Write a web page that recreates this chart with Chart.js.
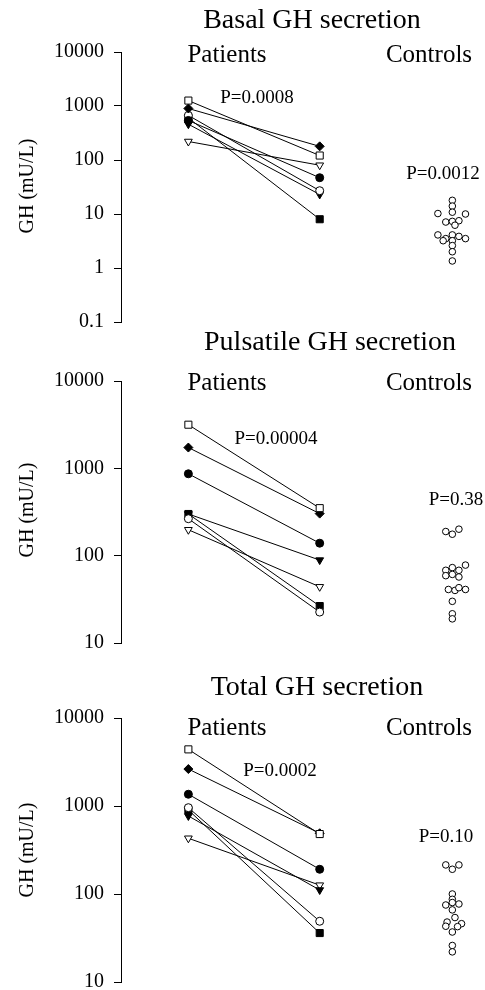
<!DOCTYPE html>
<html>
<head>
<meta charset="utf-8">
<title>GH secretion</title>
<script src="https://cdn.jsdelivr.net/npm/chart.js@4.4.1/dist/chart.umd.min.js"></script>
<style>
  html, body { margin: 0; padding: 0; background: #fff; }
  body { width: 485px; height: 990px; position: relative; overflow: hidden; }
  canvas { position: absolute; left: 0; }
</style>
</head>
<body>
<canvas id="basal" width="485" height="344" style="top:0px"></canvas>
<canvas id="pulsatile" width="485" height="335" style="top:330px"></canvas>
<canvas id="total" width="485" height="354" style="top:650px"></canvas>
<script>
// x: 1 = patients (before), 2 = patients (after), 3 = controls
const markers = ['openSquare', 'diamond', 'filledCircle', 'openCircle', 'filledSquare', 'filledTriangle', 'openTriangle'];

// Basal GH secretion
const basalBefore = [1260, 900, 540, 670, 600, 460, 220];
const basalAfter  = [121, 179, 47, 27, 8, 23, 80];
const basalCtrlX  = [3.01, 3.01, 2.90, 3.01, 3.11, 2.96, 3.01, 3.06, 3.03, 2.90, 2.96, 3.01, 3.06, 3.11, 2.94, 3.01, 3.01, 3.01, 3.01];
const basalCtrlY  = [17.9, 14, 10.2, 10.8, 10.0, 7.1, 7.3, 7.5, 6.2, 4.1, 3.5, 4.1, 3.85, 3.5, 3.2, 3.2, 2.6, 2.0, 1.35];
const basalTicks  = [0.1, 1, 10, 100, 1000, 10000];

// Pulsatile GH secretion
const pulsBefore = [3160, 1730, 866, 265, 300, 300, 198];
const pulsAfter  = [350, 303, 139, 22.6, 26.5, 89, 44];
const pulsCtrlX  = [2.96, 3.01, 3.06, 2.96, 3.01, 3.06, 3.11, 2.96, 3.01, 3.06, 2.98, 3.03, 3.06, 3.11, 3.01, 3.01, 3.01];
const pulsCtrlY  = [189, 176, 201, 68, 73, 68, 78, 59, 61, 57, 41, 40, 43, 41, 30, 21.6, 18.9];
const pulsTicks  = [10, 100, 1000, 10000];

// Total GH secretion
const totalBefore = [4400, 2630, 1360, 957, 900, 770, 430];
const totalAfter  = [480, 490, 191, 49, 36, 111, 126];
const totalCtrlX  = [2.96, 3.01, 3.06, 3.01, 3.01, 2.96, 3.01, 3.06, 3.01, 3.03, 2.97, 3.08, 2.96, 3.05, 3.01, 3.01, 3.01];
const totalCtrlY  = [214, 191, 214, 100, 87, 75, 80, 77, 66, 54, 48, 46, 43, 42.6, 37, 26, 22];
const totalTicks  = [10, 100, 1000, 10000];

const FONT = "'Liberation Serif', 'Times New Roman', serif";

function markerStyle(name) {
  const s = { pointStyle: 'circle', pointRotation: 0, pointBackgroundColor: '#000', pointRadius: 4 };
  if (name.indexOf('Square') > 0) { s.pointStyle = 'rect'; s.pointRadius = 5; }
  if (name === 'diamond') { s.pointStyle = 'rectRot'; s.pointRadius = 4.5; }
  if (name.indexOf('Triangle') > 0) { s.pointStyle = 'triangle'; s.pointRotation = 180; s.pointRadius = 4.5; }
  if (name.indexOf('open') === 0) s.pointBackgroundColor = '#fff';
  return s;
}

// texts drawn on top of each chart
const textPlugin = {
  id: 'texts',
  afterDraw(chart, args, opts) {
    const ctx = chart.ctx;
    ctx.save();
    ctx.fillStyle = '#000';
    ctx.textAlign = 'center';
    ctx.textBaseline = 'middle';
    opts.items.forEach(t => {
      ctx.font = t.size + 'px ' + FONT;
      if (t.rotate) {
        ctx.save();
        ctx.translate(t.x, t.y);
        ctx.rotate(-Math.PI / 2);
        ctx.fillText(t.text, 0, 0);
        ctx.restore();
      } else {
        ctx.fillText(t.text, t.x, t.y);
      }
    });
    ctx.restore();
  }
};

function makeChart(id, before, after, ctrlX, ctrlY, ticks, yMin, pad, texts) {
  const datasets = markers.map((m, i) => Object.assign({
    data: [{ x: 1, y: before[i] }, { x: 2, y: after[i] }],
    showLine: true,
    borderColor: '#000',
    borderWidth: 1,
    pointBorderColor: '#000',
    pointBorderWidth: 1
  }, markerStyle(m)));

  datasets.push({
    data: ctrlX.map((x, i) => ({ x: x, y: ctrlY[i] })),
    showLine: false,
    pointStyle: 'circle',
    pointRadius: 3.3,
    pointBackgroundColor: '#fff',
    pointBorderColor: '#000',
    pointBorderWidth: 1
  });

  return new Chart(document.getElementById(id), {
    type: 'scatter',
    data: { datasets: datasets },
    plugins: [textPlugin],
    options: {
      responsive: false,
      animation: false,
      layout: { padding: { top: pad[0], bottom: pad[1], left: 0, right: 0 } },
      plugins: {
        legend: { display: false },
        tooltip: { enabled: false },
        texts: { items: texts }
      },
      scales: {
        x: { type: 'linear', min: 0.487, max: 3.213, display: false },
        y: {
          type: 'logarithmic',
          min: yMin,
          max: 10000,
          afterFit: scale => { scale.width = 121; },
          afterBuildTicks: scale => { scale.ticks = ticks.map(v => ({ value: v })); },
          border: { display: true, color: '#000', width: 1 },
          grid: { drawOnChartArea: false, drawTicks: true, tickLength: 7, color: '#000', lineWidth: 1 },
          ticks: {
            color: '#000',
            padding: 10,
            font: { family: FONT, size: 20 },
            callback: v => String(v)
          }
        }
      }
    }
  });
}

makeChart('basal', basalBefore, basalAfter, basalCtrlX, basalCtrlY, basalTicks, 0.1, [52, 0], [
  { text: 'Basal GH secretion', x: 312, y: 21, size: 28 },
  { text: 'Patients', x: 227, y: 55, size: 25 },
  { text: 'Controls', x: 429, y: 55, size: 25 },
  { text: 'P=0.0008', x: 257, y: 98, size: 19 },
  { text: 'P=0.0012', x: 443, y: 174, size: 19 },
  { text: 'GH (mU/L)', x: 28, y: 186, size: 20, rotate: true }
]);

makeChart('pulsatile', pulsBefore, pulsAfter, pulsCtrlX, pulsCtrlY, pulsTicks, 10, [51, 0], [
  { text: 'Pulsatile GH secretion', x: 330, y: 13, size: 28 },
  { text: 'Patients', x: 227, y: 53, size: 25 },
  { text: 'Controls', x: 429, y: 53, size: 25 },
  { text: 'P=0.00004', x: 276, y: 109, size: 19 },
  { text: 'P=0.38', x: 456, y: 170, size: 19 },
  { text: 'GH (mU/L)', x: 28, y: 180, size: 20, rotate: true }
]);

makeChart('total', totalBefore, totalAfter, totalCtrlX, totalCtrlY, totalTicks, 10, [68, 0], [
  { text: 'Total GH secretion', x: 317, y: 38, size: 28 },
  { text: 'Patients', x: 227, y: 78, size: 25 },
  { text: 'Controls', x: 429, y: 78, size: 25 },
  { text: 'P=0.0002', x: 280, y: 121, size: 19 },
  { text: 'P=0.10', x: 446, y: 187, size: 19 },
  { text: 'GH (mU/L)', x: 28, y: 200, size: 20, rotate: true }
]);
</script>
</body>
</html>
